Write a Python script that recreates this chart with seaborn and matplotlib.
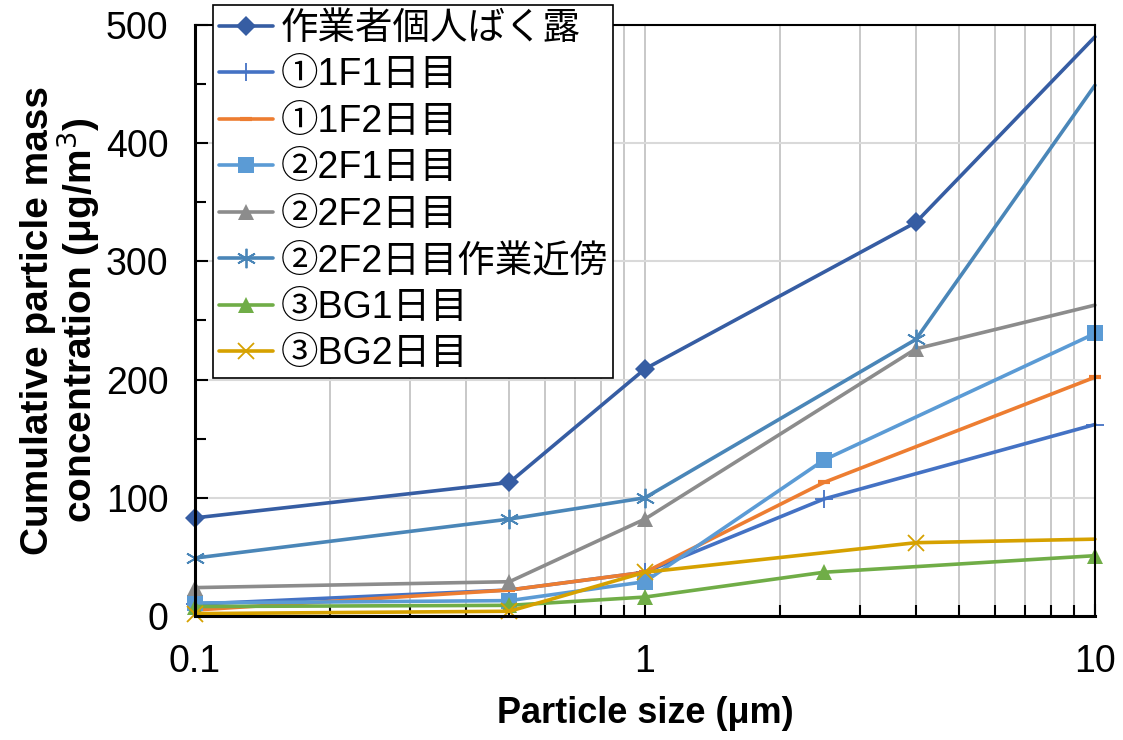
import matplotlib
matplotlib.use('Agg')
import matplotlib.pyplot as plt
import matplotlib.ticker as mticker
import seaborn as sns

# particle size (um) for each series
x_a = [0.1, 0.5, 1, 4, 10]
x_b = [0.1, 0.5, 1, 2.5, 10]

labels = ['作業者個人ばく露', '①1F1日目', '①1F2日目', '②2F1日目',
          '②2F2日目', '②2F2日目作業近傍', '③BG1日目', '③BG2日目']

worker = [83, 113, 209, 333, 490]
f1_day1 = [10, 22, 37, 99, 162]
f1_day2 = [5, 22, 37, 113, 202]
f2_day1 = [11, 13, 29, 132, 239]
f2_day2 = [24, 29, 82, 226, 263]
f2_day2_near = [49, 82, 100, 234, 449]
bg_day1 = [8, 9, 16, 37, 51]
bg_day2 = [2, 4, 37, 62, 65]

series = [
    (x_a, worker, '#365DA3', 'D', 10, [0, 1, 2, 3]),
    (x_b, f1_day1, '#4472C4', '+', 13, [0, 1, 2, 3, 4]),
    (x_b, f1_day2, '#ED7D31', '_', 9, [0, 1, 2, 3, 4]),
    (x_b, f2_day1, '#5B9BD5', 's', 11, [0, 1, 2, 3, 4]),
    (x_a, f2_day2, '#8C8C8C', '^', 12, [0, 1, 2, 3]),
    (x_a, f2_day2_near, '#4A86B8', (6, 2, 0), 14, [0, 1, 2, 3]),
    (x_b, bg_day1, '#70AD47', '^', 12, [0, 1, 2, 3, 4]),
    (x_a, bg_day2, '#D6A100', 'x', 11, [0, 1, 2, 3]),
]

sns.set_style('white')
plt.rcParams['font.family'] = ['Liberation Sans', 'Noto Sans CJK JP', 'DejaVu Sans']
plt.rcParams['text.color'] = 'black'
plt.rcParams['axes.labelcolor'] = 'black'
plt.rcParams['xtick.color'] = 'black'
plt.rcParams['ytick.color'] = 'black'

fig = plt.figure(figsize=(11.23, 7.4), dpi=100)
ax = fig.add_axes([0.1736, 0.1676, 0.8014, 0.7986])

for (xs, ys, col, mk, ms, me), lab in zip(series, labels):
    thin = mk in ('+', 'x') or isinstance(mk, tuple)
    if thin:
        mew = 1.3
    elif mk == '_':
        mew = 3
    else:
        mew = 0
    sns.lineplot(x=xs, y=ys, ax=ax, color=col, linewidth=2.6, label=lab,
                 marker=mk, markersize=ms, markeredgewidth=mew,
                 markeredgecolor=col, markerfacecolor=col,
                 markevery=me, sort=False, clip_on=False)

ax.set_xscale('log')
ax.set_xlim(0.1, 10)
ax.set_ylim(0, 500)
ax.yaxis.set_major_locator(mticker.MultipleLocator(100))
ax.yaxis.set_minor_locator(mticker.MultipleLocator(50))
ax.xaxis.set_major_formatter(mticker.FuncFormatter(lambda v, p: f'{v:g}'))
ax.xaxis.set_minor_formatter(mticker.NullFormatter())

ax.grid(True, which='major', axis='y', color='#D9D9D9', linewidth=1.5)
ax.grid(True, which='both', axis='x', color='#C8C8C8', linewidth=1.4)
ax.set_axisbelow(True)

for s in ax.spines.values():
    s.set_color('black')
    s.set_linewidth(1.5)
ax.spines['left'].set_linewidth(2.2)
ax.spines['bottom'].set_linewidth(2.2)

ax.tick_params(axis='both', which='both', direction='in', color='black', width=1.5,
               labelsize=27, top=False, right=False)
ax.tick_params(axis='y', which='both', left=True, pad=19)
ax.tick_params(axis='x', which='both', bottom=True, pad=20)
ax.tick_params(which='major', length=9)
ax.tick_params(which='minor', length=8)

ax.set_xlabel('Particle size (μm)', fontsize=26, fontweight='bold', labelpad=12)
ax.set_ylabel('Cumulative particle mass\nconcentration (μg/m$^3$)', fontsize=28,
              fontweight='bold', linespacing=0.95, labelpad=3)

leg = ax.legend(loc='upper left', bbox_to_anchor=(0.1897, 0.9932),
                bbox_transform=fig.transFigure, fontsize=27, frameon=True,
                fancybox=False, edgecolor='black', framealpha=1,
                borderaxespad=0, borderpad=0.15, labelspacing=0.28,
                handlelength=1.45, handletextpad=0.2)
leg.get_frame().set_linewidth(1.2)
for t in leg.get_texts():
    t.set_color('black')

fig.savefig('out.png', dpi=100)
